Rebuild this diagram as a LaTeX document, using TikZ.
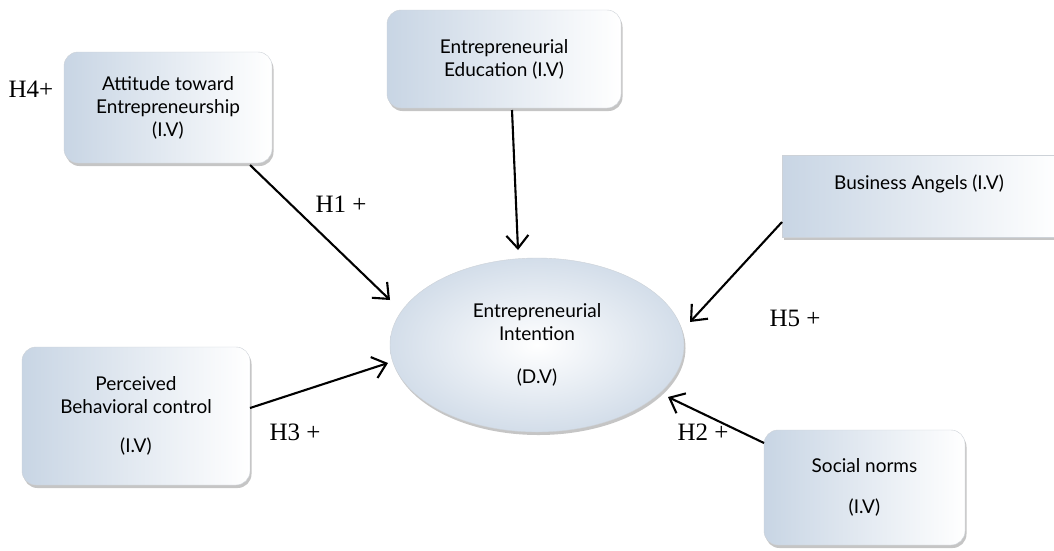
\documentclass[tikz,border=0pt]{standalone}
\usepackage{fontspec}
\setmainfont{Lato}
\newfontfamily\labfont{Liberation Serif}
\usetikzlibrary{shapes.geometric,shadows,arrows.meta,calc}
\definecolor{boxblue}{RGB}{200,213,228}
\definecolor{boxedge}{RGB}{205,210,216}
\tikzset{
  vbox/.style={draw=boxedge, line width=0.4pt, rounded corners=14pt,
    left color=boxblue, right color=white,
    drop shadow={shadow xshift=1.5pt, shadow yshift=-3pt, opacity=0.45, fill=black!50},
    align=center, inner sep=0pt, outer sep=0pt, font=\fontsize{19}{23}\selectfont},
  flatbox/.style={vbox, rounded corners=0pt},
  dvell/.style={ellipse, draw=boxedge, line width=0.4pt,
    inner color=white, outer color=boxblue!80,
    drop shadow={shadow xshift=1.5pt, shadow yshift=-3pt, opacity=0.45, fill=black!50},
    align=center, inner sep=0pt, outer sep=0pt, font=\fontsize{19}{23}\selectfont},
  arr/.style={-{Straight Barb[length=13pt,width=22pt,line width=2.1pt]}, line width=2.1pt, black},
  hlab/.style={font=\labfont\fontsize{25}{28}\selectfont, inner sep=0pt}
}
\begin{document}
\begin{tikzpicture}[x=1pt,y=1pt]
\useasboundingbox (0,0) rectangle (1054,-550);
\fill[white] (0,0) rectangle (1054,-550);
% boxes
\node[vbox, minimum width=208pt, minimum height=111pt] (att) at (168,-107.5)
  {Attitude toward\\Entrepreneurship\\(I.V)};
\node[vbox, minimum width=234pt, minimum height=98pt] (edu) at (504,-59)
  {Entrepreneurial\\Education (I.V)};
\node[flatbox, minimum width=278pt, minimum height=82pt] (ba) at (921,-196) {};
\node[font=\fontsize{19}{23}\selectfont, inner sep=0pt] (batext) at (919,-184) {Business Angels (I.V)};
\node[vbox, minimum width=228pt, minimum height=138pt] (pbc) at (136,-416)
  {Perceived\\Behavioral control\\[16pt](I.V)};
\node[vbox, minimum width=201pt, minimum height=115pt] (sn) at (864.5,-487.5)
  {Social norms\\[18pt](I.V)};
\node[dvell, minimum width=294pt, minimum height=174pt] (ei) at (537,-345)
  {Entrepreneurial\\Intention\\[20pt](D.V)};
% connectors
\draw[arr] ($(att.south east)+(-22,-2)$) -- ($(ei.center)+(-147,45)$);
\draw[arr] ($(edu.south)+(8,-2)$) -- ($(ei.center)+(-19,95)$);
\draw[arr] ($(ba.south west)+(0,15)$) -- ($(ei.center)+(153,23)$);
\draw[arr] ($(pbc.east)+(0,8)$) -- ($(ei.center)+(-149,-18)$);
\draw[arr] ($(sn.north west)+(0,-13)$) -- ($(ei.center)+(131,-52)$);
% labels
\node[hlab] (h4) at (31,-89) {H4+};
\node[hlab] (h1) at (341,-204) {H1 +};
\node[hlab] (h5) at (795,-318) {H5 +};
\node[hlab] (h3) at (295,-432) {H3 +};
\node[hlab] (h2) at (703,-432) {H2 +};
\end{tikzpicture}
\end{document}
